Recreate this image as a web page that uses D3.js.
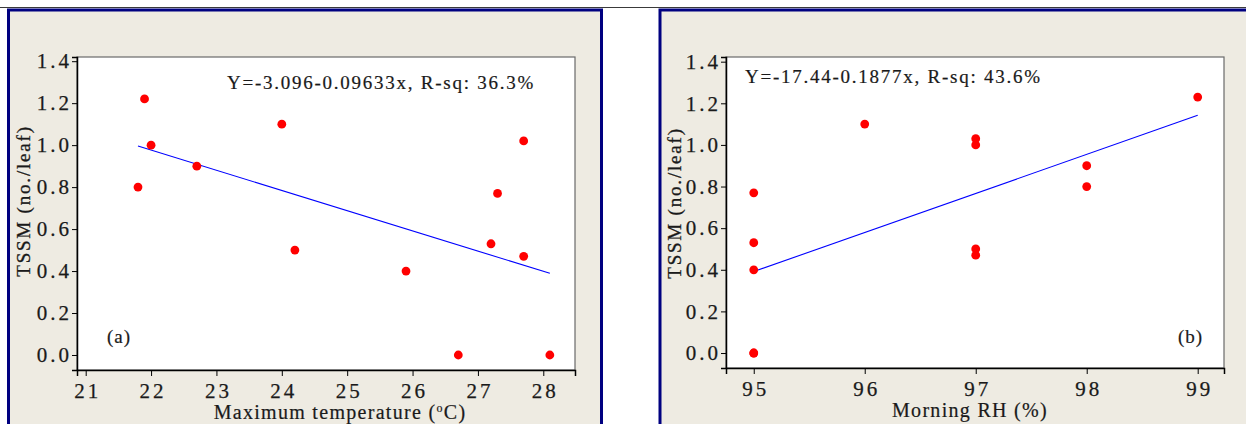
<!DOCTYPE html>
<html>
<head>
<meta charset="utf-8">
<script src="https://cdn.jsdelivr.net/npm/d3@7/dist/d3.min.js"></script>
<style>
  html, body { margin: 0; padding: 0; background: #ffffff; }
  svg { display: block; }
  text { font-family: "Liberation Serif", "Times New Roman", serif; fill: #1a1a1a; }
</style>
</head>
<body>
<svg id="chart" width="1246" height="424"></svg>
<script>
// ---- Data ----
// Panel (a): Maximum temperature vs TSSM
const tempX = [21.8, 21.9, 22.0, 22.7, 24.0, 24.2, 25.9, 26.7, 27.2, 27.3, 27.7, 27.7, 28.1];
const tempY = [0.80, 1.22, 1.00, 0.90, 1.10, 0.50, 0.40, 0.00, 0.53, 0.77, 1.02, 0.47, 0.00];
const tempFit = { intercept: 3.096, slope: -0.09633 };
const tempTicks = [21, 22, 23, 24, 25, 26, 27, 28];
const tempEquation = "Y=-3.096-0.09633x,  R-sq:  36.3%";

// Panel (b): Morning RH vs TSSM
const rhX = [95, 95, 95, 95, 95, 96, 97, 97, 97, 97, 98, 98, 99];
const rhY = [0.77, 0.53, 0.40, 0.00, 0.00, 1.10, 1.03, 1.00, 0.50, 0.47, 0.90, 0.80, 1.23];
const rhFit = { intercept: -17.44, slope: 0.1877 };
const rhTicks = [95, 96, 97, 98, 99];
const rhEquation = "Y=-17.44-0.1877x,  R-sq:  43.6%";

const yTicks = [0.0, 0.2, 0.4, 0.6, 0.8, 1.0, 1.2, 1.4];
const yTitle = "TSSM (no./leaf)";

const svg = d3.select("#chart");

// top rule across the page
svg.append("line").attr("x1", 0).attr("x2", 1246).attr("y1", 7.5).attr("y2", 7.5)
  .attr("stroke", "#3a3a3a").attr("stroke-width", 1);

const SERIF = "'Liberation Serif', 'Times New Roman', serif";

function drawPanel(cfg) {
  const g = svg.append("g");
  // panel frame
  g.append("rect").attr("x", cfg.frame[0]).attr("y", 10).attr("width", cfg.frame[1])
    .attr("height", 440).attr("fill", "#EEEBE2").attr("stroke", "#000080").attr("stroke-width", 3);

  const x = d3.scaleLinear().domain(cfg.xDomain).range([cfg.left, cfg.right]);
  const y = d3.scaleLinear().domain(cfg.yDomain).range([cfg.bottom, cfg.top]);

  // plot area
  g.append("rect").attr("x", cfg.left).attr("y", cfg.top)
    .attr("width", cfg.right - cfg.left).attr("height", cfg.bottom - cfg.top)
    .attr("fill", "#ffffff").attr("stroke", "#6a6a6a").attr("stroke-width", 1.2);

  // axes
  const yAxis = d3.axisLeft(y).tickValues(yTicks).tickFormat(d3.format(".1f")).tickSize(5).tickPadding(0);
  const gy = g.append("g").attr("transform", `translate(${cfg.left},0)`).call(yAxis);
  const xAxis = d3.axisBottom(x).tickValues(cfg.xTicks).tickFormat(d3.format("d")).tickSize(6).tickPadding(7);
  const gx = g.append("g").attr("transform", `translate(0,${cfg.bottom})`).call(xAxis);
  [gx, gy].forEach(a => {
    a.attr("font-family", SERIF);
    a.select(".domain").attr("stroke", "#000").attr("stroke-width", 1.5);
    a.selectAll(".tick line").attr("stroke", "#000").attr("stroke-width", 1);
    a.selectAll(".tick text").attr("font-size", 21).attr("fill", "#1a1a1a")
      .attr("stroke", "#1a1a1a").attr("stroke-width", 0.25)
      .style("letter-spacing", "3px")
      .attr("font-family", SERIF);
  });
  gy.selectAll(".tick text").attr("dx", "0px");
  gx.selectAll(".tick text").attr("dy", "0.71em").attr("dx", "1.5px");

  // regression line
  const xs = cfg.xs;
  const x0 = d3.min(xs), x1 = d3.max(xs);
  g.append("line")
    .attr("x1", x(x0)).attr("y1", y(cfg.fit.intercept + cfg.fit.slope * x0))
    .attr("x2", x(x1)).attr("y2", y(cfg.fit.intercept + cfg.fit.slope * x1))
    .attr("stroke", "#0000ff").attr("stroke-width", 1.1);

  // points
  g.selectAll("circle.pt").data(xs.map((d, i) => [d, cfg.ys[i]])).enter()
    .append("circle").attr("class", "pt")
    .attr("cx", d => x(d[0])).attr("cy", d => y(d[1])).attr("r", 4.4)
    .attr("fill", "#ff0000");

  // equation
  g.append("text").attr("x", cfg.eq[0]).attr("y", cfg.eq[1]).attr("font-size", 19)
    .attr("stroke", "#1a1a1a").attr("stroke-width", 0.2)
    .style("letter-spacing", "1.75px").text(cfg.equation);

  // panel label
  g.append("text").attr("x", cfg.lab[0]).attr("y", cfg.lab[1]).attr("font-size", 19)
    .attr("stroke", "#1a1a1a").attr("stroke-width", 0.2)
    .style("letter-spacing", "1px").text(cfg.label);

  // y title
  g.append("text").attr("transform", `translate(${cfg.yt[0]},${cfg.yt[1]}) rotate(-90)`)
    .attr("text-anchor", "middle").attr("font-size", 19)
    .attr("stroke", "#1a1a1a").attr("stroke-width", 0.3)
    .style("letter-spacing", "1.8px").text(yTitle);

  // x title
  const xt = g.append("text").attr("x", cfg.xt[0]).attr("y", cfg.xt[1])
    .attr("text-anchor", "middle").attr("font-size", 20)
    .attr("stroke", "#1a1a1a").attr("stroke-width", 0.2)
    .style("letter-spacing", "1.3px");
  cfg.xTitle(xt);
}

drawPanel({
  frame: [8.5, 593],
  left: 77, right: 575, top: 57, bottom: 370,
  xDomain: [20.867, 28.485], yDomain: [-0.0715, 1.42],
  xTicks: tempTicks, xs: tempX, ys: tempY, fit: tempFit,
  equation: tempEquation, eq: [227, 89],
  label: "(a)", lab: [107, 343],
  yt: [30, 201],
  xt: [340, 419],
  xTitle: t => {
    t.append("tspan").text("Maximum temperature (");
    t.append("tspan").attr("font-size", 12).attr("dy", -7).text("o");
    t.append("tspan").attr("dy", 7).text("C)");
  }
});

drawPanel({
  frame: [660, 600],
  left: 726, right: 1224, top: 57, bottom: 368,
  xDomain: [94.75, 99.237], yDomain: [-0.072, 1.4225],
  xTicks: rhTicks, xs: rhX, ys: rhY, fit: rhFit,
  equation: rhEquation, eq: [745, 83],
  label: "(b)", lab: [1178, 343],
  yt: [681, 203],
  xt: [970, 417],
  xTitle: t => { t.text("Morning RH (%)"); }
});
</script>
</body>
</html>
